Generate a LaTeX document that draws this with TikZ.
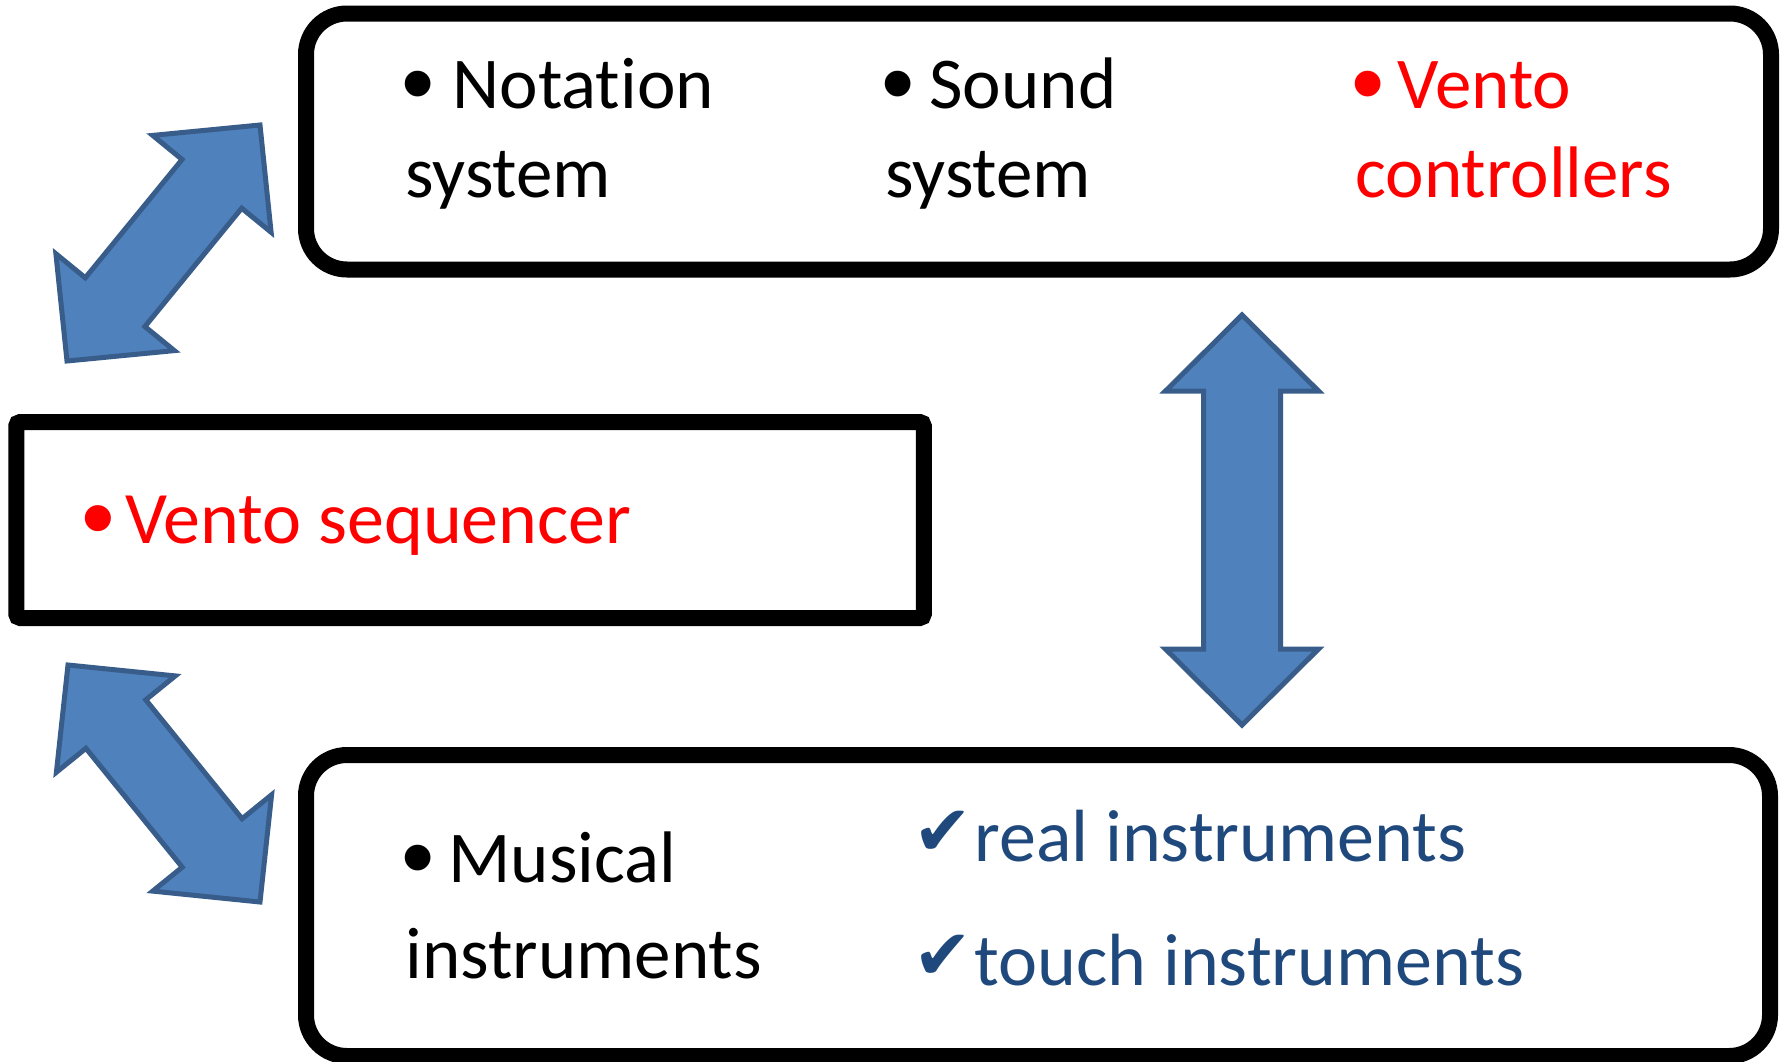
\documentclass[tikz,border=0pt]{standalone}
\usepackage{fontspec}
\setmainfont{Carlito}[Ligatures=CommonOff]
\newfontfamily\checkfont{DejaVu Sans}
\newfontfamily\bulfont{Liberation Sans}
\usetikzlibrary{calc}

\definecolor{arrowfill}{HTML}{4F81BD}
\definecolor{arrowline}{HTML}{385D8A}
\definecolor{checkblue}{HTML}{1F497D}

\tikzset{
  box/.style={draw, line width=8pt, rectangle, inner sep=0pt},
  item/.style={anchor=base west, inner sep=0pt, font=\fontsize{36.5}{44.5}\selectfont},
  blockarr/.style={fill=arrowfill, draw=arrowline, line width=2.5pt, line join=miter},
}

% bullet in a box of fixed width
\newcommand{\bul}[1]{\makebox[#1][l]{\hspace{-2pt}\raisebox{-3.5pt}{\scalebox{1.3}{\bulfont •}}}}
\newcommand{\tick}{\makebox[27.5pt][l]{\hspace{-3pt}\raisebox{3pt}{\checkfont\scalebox{0.95}{✔}}}}

% double headed block arrow between two named coordinates
\newcommand{\blockarrow}[2]{%
  \coordinate (ha) at ($(#1)!38pt!(#2)$);
  \coordinate (hb) at ($(#2)!38pt!(#1)$);
  \draw[blockarr] (#1) -- ($(ha)!38.25pt!90:(#2)$) -- ($(ha)!19.25pt!90:(#2)$)
    -- ($(hb)!19.25pt!-90:(#1)$) -- ($(hb)!38.25pt!-90:(#1)$) -- (#2)
    -- ($(hb)!38.25pt!90:(#1)$) -- ($(hb)!19.25pt!90:(#1)$)
    -- ($(ha)!19.25pt!-90:(#2)$) -- ($(ha)!38.25pt!-90:(#2)$) -- cycle;}

\begin{document}
\begin{tikzpicture}[x=0.5pt, y=-0.5pt]
\useasboundingbox (0,0) rectangle (1787,1061);

% Boxes
\node[box, rounded corners=20.5pt, minimum width=732.5pt, minimum height=128pt] (topbox) at (1038.5,141.5) {};
\node[box, rounded corners=2pt, minimum width=453.75pt, minimum height=98pt] (seqbox) at (470,520) {};
\node[box, rounded corners=20.5pt, minimum width=732pt, minimum height=150.5pt] (instbox) at (1038,905.5) {};

% Top box items
\node[item] (notation) at (405,108) {\begin{tabular}[t]{@{}l@{}}\bul{23.5pt}Notation\\system\end{tabular}};
\node[item] (sound) at (885,108) {\begin{tabular}[t]{@{}l@{}}\bul{22pt}Sound\\system\end{tabular}};
\node[item, red] (controllers) at (1355,108) {\begin{tabular}[t]{@{}l@{}}\bul{21pt}Vento\\controllers\end{tabular}};

% Middle box item
\node[item, red, font=\fontsize{37}{44.5}\selectfont] (sequencer) at (85,543) {\bul{20pt}Vento sequencer};

% Bottom box items
\node[item, font=\fontsize{36.5}{48}\selectfont] (musical) at (405,882) {\begin{tabular}[t]{@{}l@{}}\bul{21.5pt}Musical\\instruments\end{tabular}};
\node[item, checkblue, font=\fontsize{37}{44.5}\selectfont] (real) at (919,861) {\tick real instruments};
\node[item, checkblue, font=\fontsize{37}{44.5}\selectfont] (touch) at (919,985) {\tick touch instruments};

% Arrow end points
\coordinate (topL) at (260,125);
\coordinate (seqU) at (67,361);
\coordinate (seqD) at (68,665);
\coordinate (instL) at (260,902);
\coordinate (topD) at (1242,315);
\coordinate (instU) at (1242,725);

% Block arrows
\blockarrow{topL}{seqU}
\blockarrow{seqD}{instL}
\blockarrow{topD}{instU}

\end{tikzpicture}
\end{document}
